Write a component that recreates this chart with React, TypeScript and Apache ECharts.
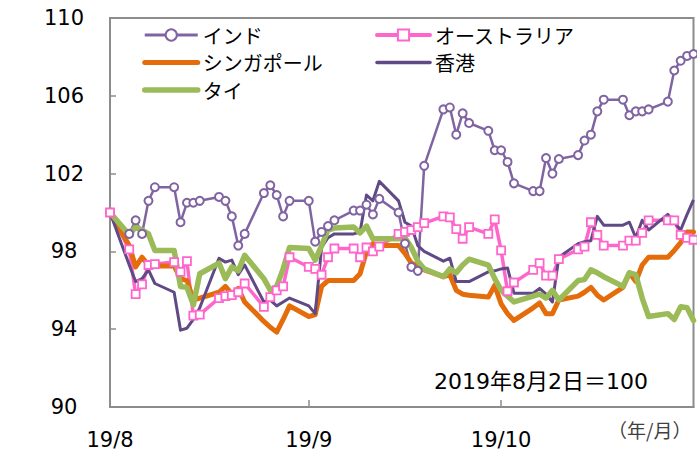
import React, { useEffect, useRef } from 'react';
import * as echarts from 'echarts';

// day offsets from 2019-08-02 (trading days)
const days = [0, 3, 4, 5, 6, 7, 10, 11, 12, 13, 14, 17, 18, 19, 20, 21, 24, 25, 26, 27, 28, 31, 32, 33, 34, 35, 38, 39, 40, 41, 42, 45, 46, 47, 48, 49, 52, 53, 54, 55, 56, 59, 60, 61, 62, 63, 66, 67, 68, 69, 70, 73, 74, 75, 76, 77, 80, 81, 82, 83, 84, 87, 88, 89, 90, 91];

const seriesNames = ['インド', 'オーストラリア', 'シンガポール', '香港', 'タイ'];

const india = [100,
  98.9, 99.6, 98.9, 100.6, 101.3,
  101.3, 99.5, 100.5, 100.5, 100.6,
  100.8, 100.6, 99.8, 98.3, 98.9,
  101.0, 101.4, 100.9, 99.8, 100.6,
  100.6, 98.5, 99.0, 99.3, 99.6,
  100.1, 100.1, 100.4, 99.9, 100.7,
  100.0, 98.4, 97.2, 97.0, 102.4,
  105.3, 105.4, 104.0, 105.1, 104.6,
  104.2, 103.2, 103.2, 102.6, 101.5,
  101.1, 101.1, 102.8, 102.0, 102.75,
  102.95, 103.7, 104.0, 105.2, 105.8,
  105.8, 105.0, 105.2, 105.2, 105.3,
  105.7, 107.3, 107.8, 108.05, 108.15];

const australia = [100,
  98.1, 95.8, 96.3, 97.3, 97.35,
  97.45, 96.95, 97.5, 94.7, 94.75,
  95.6, 95.7, 95.75, 95.9, 96.35,
  95.15, 95.65, 96.0, 96.2, 97.7,
  97.2, 97.1, 96.8, 97.7, 98.15,
  98.15, 97.7, 98.2, 98.0, 98.25,
  98.9, 99.0, 99.1, 99.25, 99.45,
  99.8, 99.75, 99.15, 98.65, 99.25,
  98.9, 99.65, 98.05, 95.95, 96.4,
  97.05, 97.4, 96.75, 96.75, 97.6,
  98.1, 98.25, 99.5, 98.85, 98.3,
  98.3, 98.55, 98.55, 98.95, 99.6,
  99.6, 99.6, 98.85, 98.7, 98.6];

const singapore = [100,
  98.3, 97.2, 97.7, 97.3, 97.25,
  97.25, 96.6, 96.5, 95.5, 95.6,
  95.9, 96.2, 95.8, 96.1, 95.4,
  94.4, 94.1, 93.85, 94.5, 95.2,
  94.65, 94.75, 96.2, 96.5, 96.5,
  96.5, 96.85, 98.0, 98.4, 98.3,
  98.3, 97.9, 97.4, 97.25, 97.05,
  96.7, 96.8, 96.0, 95.8, 95.75,
  95.65, 96.25, 95.3, 94.8, 94.45,
  95.1, 95.35, 94.8, 94.8, 95.5,
  95.7, 95.9, 96.15, 95.75, 95.5,
  96.15, 96.9, 96.45, 97.3, 97.7,
  97.7, 98.05, 98.45, 99.0, 99.0];

const hongkong = [100,
  97.3, 96.45, 96.6, 97.05, 96.35,
  95.9, 93.95, 94.05, 94.5, 95.1,
  97.65, 97.45, 97.55, 96.8, 97.3,
  95.4, 95.5, 95.2, 95.4, 95.6,
  95.2, 94.8, 98.2, 98.7, 98.9,
  98.9, 99.0, 100.9, 100.6, 101.6,
  100.6, 99.5, 99.3, 98.3, 98.0,
  97.5, 97.65, 96.45, 96.45, 96.45,
  96.95, 97.0, 97.1, 97.15, 95.85,
  95.85, 96.1, 95.8, 95.4, 97.7,
  98.4, 98.5, 98.55, 99.8, 99.35,
  99.35, 99.5, 98.7, 99.6, 99.1,
  99.9, 99.5, 99.1, 99.9, 100.65];

const thailand = [100,
  98.85, 99.25, 99.1, 98.9, 98.05,
  98.05, 96.2, 96.15, 95.25, 96.85,
  97.4, 96.6, 97.2, 97.0, 97.8,
  96.6, 96.0, 96.2, 97.1, 98.2,
  98.15, 97.55, 98.3, 99.1, 99.2,
  99.25, 98.95, 99.3, 98.65, 98.65,
  98.65, 98.7, 98.2, 97.5, 97.1,
  96.7, 97.1, 96.9, 97.3, 97.6,
  97.3, 96.6, 96.0, 95.7, 95.4,
  95.7, 95.8, 95.6, 96.0, 95.5,
  96.5, 96.55, 97.05, 96.9, 96.7,
  96.2, 96.9, 96.8, 95.6, 94.65,
  94.8, 94.5, 95.15, 95.1, 94.45];

const xTickDays = [0, 31, 61];
const xTickLabels = ['19/8', '19/9', '19/10'];
const yTicks = [90, 94, 98, 102, 106, 110];

const axisGray = '#8c8c8c';
const numFont = 'DejaVu Sans, "Noto Sans CJK JP", sans-serif';
const jpFont = '"Noto Sans CJK JP", sans-serif';

const cIndia = '#8064a2';
const cAus = '#ff66cc';
const cSing = '#e46c0a';
const cHK = '#5f4a86';
const cThai = '#9bbb59';

export default function App() {
  const ref = useRef<HTMLDivElement>(null);
  useEffect(() => {
    const chart = echarts.init(ref.current!, null, { renderer: 'svg' });
    const pair = (vals: number[]) => days.map((d, i) => [d, vals[i]]);
    const legendText = { fontSize: 20, fontFamily: jpFont, color: '#000', lineHeight: 20 };
    chart.setOption({
      animation: false,
      grid: {
        left: 110, right: 3.5, top: 18, bottom: 43,
        show: true, borderColor: axisGray, borderWidth: 2, backgroundColor: 'transparent',
      },
      legend: [
        {
          data: [
            { name: seriesNames[0], lineStyle: { width: 3 } },
            { name: seriesNames[2], itemStyle: { opacity: 0 }, lineStyle: { width: 5, cap: 'round' } },
            { name: seriesNames[4], itemStyle: { opacity: 0 }, lineStyle: { width: 5.5, cap: 'round' } },
          ],
          orient: 'vertical', left: 137, top: 20, itemWidth: 53, itemHeight: 14, itemGap: 7.5,
          textStyle: legendText,
        },
        {
          data: [
            { name: seriesNames[1], lineStyle: { width: 4, cap: 'round' } },
            { name: seriesNames[3], itemStyle: { opacity: 0 }, lineStyle: { width: 3.5, cap: 'round' } },
          ],
          orient: 'vertical', left: 370, top: 20, itemWidth: 53, itemHeight: 14, itemGap: 7.5,
          textStyle: legendText,
        },
      ],
      xAxis: {
        type: 'value', min: 0, max: 91,
        axisLine: { show: true, lineStyle: { color: axisGray, width: 2 } },
        axisTick: { show: true, inside: true, length: 7, customValues: xTickDays, lineStyle: { color: axisGray, width: 1.5 } },
        axisLabel: {
          customValues: xTickDays, margin: 22, fontSize: 21, fontFamily: numFont, color: '#000',
          formatter: (v: number) => { const i = xTickDays.indexOf(v); return i >= 0 ? xTickLabels[i] : ''; },
        },
        splitLine: { show: false },
      },
      yAxis: {
        type: 'value', min: 90, max: 110,
        axisLine: { show: true, lineStyle: { color: axisGray, width: 2 } },
        axisTick: { show: true, inside: true, length: 6, customValues: yTicks, lineStyle: { color: axisGray, width: 1.5 } },
        axisLabel: {
          customValues: yTicks, margin: 46, align: 'center', fontSize: 21, fontFamily: numFont, color: '#000',
          verticalAlign: 'middle', padding: [4, 0, 0, 0],
        },
        splitLine: { show: false },
      },
      graphic: [
        { type: 'text', left: 434, top: 370, style: { text: '2019年8月2日＝100', fontSize: 22, fontFamily: numFont, fill: '#000' } },
        { type: 'text', left: 608, top: 420, style: { text: '（年/月）', fontSize: 19, fontFamily: jpFont, fill: '#404040' } },
      ],
      series: [
        {
          name: seriesNames[0], type: 'line', data: pair(india),
          symbol: 'circle', symbolSize: 8, showSymbol: true,
          lineStyle: { color: cIndia, width: 2.5 },
          itemStyle: { color: '#ffffff', borderColor: cIndia, borderWidth: 2 },
        },
        {
          name: seriesNames[1], type: 'line', data: pair(australia),
          symbol: 'rect', symbolSize: 8, showSymbol: true,
          lineStyle: { color: cAus, width: 3.5 },
          itemStyle: { color: '#ffffff', borderColor: cAus, borderWidth: 1.8 },
        },
        {
          name: seriesNames[2], type: 'line', data: pair(singapore), symbol: 'none',
          lineStyle: { color: cSing, width: 5, cap: 'round', join: 'round' },
          itemStyle: { color: cSing },
        },
        {
          name: seriesNames[3], type: 'line', data: pair(hongkong), symbol: 'none',
          lineStyle: { color: cHK, width: 3, join: 'round' },
          itemStyle: { color: cHK },
        },
        {
          name: seriesNames[4], type: 'line', data: pair(thailand), symbol: 'none',
          lineStyle: { color: cThai, width: 5.5, cap: 'round', join: 'round' },
          itemStyle: { color: cThai },
        },
      ],
    });
    return () => chart.dispose();
  }, []);
  return <div ref={ref} style={{ position: 'absolute', left: 0, top: 0, width: 697, height: 450 }} />;
}
